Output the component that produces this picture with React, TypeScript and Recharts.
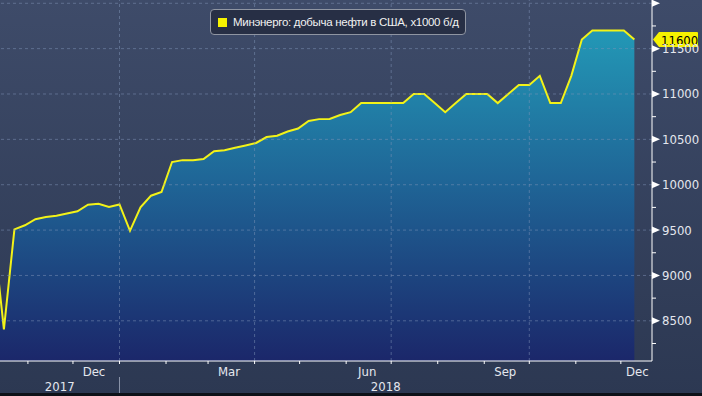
import React from "react";
import { ComposedChart, Area, XAxis, YAxis, ReferenceLine, Legend } from "recharts";

const DAY = 86400000;
const ts = (s: string) => Date.parse(s + "T00:00:00Z");

// weekly points (EIA, plotted on the following Monday)
const weekDates = [
  "2017-10-09", "2017-10-16", "2017-10-23", "2017-10-30", "2017-11-06", "2017-11-13",
  "2017-11-20", "2017-11-27", "2017-12-04", "2017-12-11", "2017-12-18", "2017-12-25",
  "2018-01-01", "2018-01-08", "2018-01-15", "2018-01-22", "2018-01-29", "2018-02-05",
  "2018-02-12", "2018-02-19", "2018-02-26", "2018-03-05", "2018-03-12", "2018-03-19",
  "2018-03-26", "2018-04-02", "2018-04-09", "2018-04-16", "2018-04-23", "2018-04-30",
  "2018-05-07", "2018-05-14", "2018-05-21", "2018-05-28", "2018-06-04", "2018-06-11",
  "2018-06-18", "2018-06-25", "2018-07-02", "2018-07-09", "2018-07-16", "2018-07-23",
  "2018-07-30", "2018-08-06", "2018-08-13", "2018-08-20", "2018-08-27", "2018-09-03",
  "2018-09-10", "2018-09-17", "2018-09-24", "2018-10-01", "2018-10-08", "2018-10-15",
  "2018-10-22", "2018-10-29", "2018-11-05", "2018-11-12", "2018-11-19", "2018-11-26",
  "2018-12-03", "2018-12-10",
];

const production = [
  9480, 8406, 9508, 9553, 9620, 9645,
  9658, 9682, 9707, 9780, 9789, 9754,
  9782, 9492, 9750, 9879, 9919, 10250,
  10271, 10271, 10283, 10369, 10381, 10407,
  10433, 10460, 10525, 10540, 10586, 10619,
  10703, 10723, 10725, 10769, 10800, 10900,
  10900, 10900, 10900, 10900, 11000, 11000,
  10900, 10800, 10900, 11000, 11000, 11000,
  10900, 11000, 11100, 11100, 11200, 10900,
  10900, 11200, 11600, 11700, 11700, 11700,
  11700, 11600,
];

const yMajor = [8500, 9000, 9500, 10000, 10500, 11000, 11500, 12000];
const yMinor = [8250, 8750, 9250, 9750, 10250, 10750, 11250, 11750];

const monthStarts = [
  "2017-11-01", "2017-12-01", "2018-01-01", "2018-02-01", "2018-03-01", "2018-04-01",
  "2018-05-01", "2018-06-01", "2018-07-01", "2018-08-01", "2018-09-01", "2018-10-01",
  "2018-11-01", "2018-12-01",
];
const quarterStarts = ["2018-01-01", "2018-04-01", "2018-07-01", "2018-10-01"];
const monthLabelDates = ["2017-12-15", "2018-03-15", "2018-06-15", "2018-09-15", "2018-12-12"];
const monthLabelTexts = ["Dec", "Mar", "Jun", "Sep", "Dec"];
const yearLabels = ["2017", "2018"];
const yearStart = "2018-01-01";

const seriesName = "Минэнерго: добыча нефти в США, x1000 б/д";

const data = weekDates.map((d, i) => ({ t: ts(d), v: production[i] }));
const lastValue = production[production.length - 1];

const JAN1 = ts(yearStart);
const xDomain = [JAN1 - 79.6 * DAY, JAN1 + 354.75 * DAY];
const yDomain = [8057, 12036];

const tickInfo = new Map<number, { kind: string; text?: string }>();
monthStarts.forEach((d) => tickInfo.set(ts(d), { kind: d === yearStart ? "year" : "month" }));
monthLabelDates.forEach((d, i) => tickInfo.set(ts(d), { kind: "label", text: monthLabelTexts[i] }));
tickInfo.set(Math.round((xDomain[0] + JAN1) / 2), { kind: "yearLabel", text: yearLabels[0] });
tickInfo.set(Math.round((JAN1 + xDomain[1]) / 2), { kind: "yearLabel", text: yearLabels[1] });
const xTicks = Array.from(tickInfo.keys()).sort((a, b) => a - b);

const FONT = '"DejaVu Sans Condensed", "DejaVu Sans", sans-serif';
const LEGEND_FONT = '"Liberation Sans", Arial, sans-serif';
const TXT = "#e4e7ee";

const XTick = (props: any) => {
  const { x, y, payload } = props;
  const info = tickInfo.get(payload.value);
  if (!info) return null;
  if (info.kind === "month" || info.kind === "year") {
    return (
      <g>
        <line x1={x} x2={x} y1={y} y2={y + 3} stroke="#ffffff" strokeWidth={1} />
        {info.kind === "year" && (
          <line x1={x} x2={x} y1={y + 16} y2={y + 33} stroke="#8b95a9" strokeWidth={1} />
        )}
      </g>
    );
  }
  const dy = info.kind === "label" ? 15 : 30;
  return (
    <text x={x} y={y + dy} textAnchor="middle" fontSize={13} fontFamily={FONT} fill={TXT}>
      {info.text}
    </text>
  );
};

const YTick = (props: any) => {
  const { x, y, payload } = props;
  const v = payload.value;
  if (yMinor.includes(v)) {
    return <line x1={x} x2={x + 4} y1={y} y2={y} stroke="#ffffff" strokeWidth={1} />;
  }
  return (
    <g>
      <path d={`M${x},${y - 3.5} L${x + 8},${y} L${x},${y + 3.5} Z`} fill="#ffffff" />
      {v !== 12000 && (
        <text x={x + 10} y={y + 4.5} fontSize={13} fontFamily={FONT} fill={TXT}>
          {v}
        </text>
      )}
    </g>
  );
};

const LastTag = (props: any) => {
  const { viewBox } = props;
  if (!viewBox) return null;
  const x = viewBox.x + viewBox.width + 1;
  const y = viewBox.y;
  return (
    <g>
      <path
        d={`M${x},${y} L${x + 6},${y - 7.5} H${x + 44} Q${x + 45},${y - 7.5} ${x + 45},${y - 6.5} V${y + 6.5} Q${x + 45},${y + 7.5} ${x + 44},${y + 7.5} H${x + 6} Z`}
        fill="#f6f200"
      />
      <text x={x + 8} y={y + 5} fontSize={13} fontFamily={FONT} fill="#000000">
        {lastValue}
      </text>
    </g>
  );
};

const LegendBox = () => (
  <div
    style={{
      boxSizing: "border-box",
      width: 256,
      height: 26,
      border: "1px solid #8f95a2",
      borderRadius: 4,
      background: "#272f45",
      display: "flex",
      alignItems: "center",
      paddingLeft: 7,
      fontFamily: LEGEND_FONT,
      fontSize: 11.5,
      letterSpacing: -0.3,
      color: "#f2f2f2",
      whiteSpace: "nowrap",
    }}
  >
    <span style={{ width: 9, height: 9, background: "#f6f200", marginRight: 6, flex: "none" }} />
    {seriesName}
  </div>
);

export default function App() {
  const grid = "rgba(130,150,185,0.5)";
  return (
    <div
      style={{
        position: "absolute",
        left: 0,
        top: 0,
        width: 702,
        height: 396,
        background: "linear-gradient(to bottom, #3e4b69, #2c3852)",
        overflow: "hidden",
      }}
    >
      <ComposedChart
        width={702}
        height={396}
        data={data}
        margin={{ top: 0, right: 0, bottom: 0, left: 0 }}
      >
        <defs>
          <linearGradient id="oilFill" x1="0" y1="0" x2="0" y2="1">
            <stop offset="0%" stopColor="#2398b6" />
            <stop offset="45%" stopColor="#1f6697" />
            <stop offset="100%" stopColor="#1b276a" />
          </linearGradient>
        </defs>
        <XAxis
          dataKey="t"
          type="number"
          scale="time"
          domain={xDomain}
          allowDataOverflow
          ticks={xTicks}
          interval={0}
          height={35}
          tickSize={0}
          tickMargin={0}
          tickLine={false}
          axisLine={{ stroke: "#ffffff", strokeWidth: 1 }}
          tick={<XTick />}
        />
        <YAxis
          orientation="right"
          type="number"
          domain={yDomain}
          allowDataOverflow
          ticks={[...yMinor, ...yMajor].sort((a, b) => a - b)}
          interval={0}
          width={50}
          tickSize={0}
          tickMargin={0}
          tickLine={false}
          axisLine={{ stroke: "#ffffff", strokeWidth: 1 }}
          tick={<YTick />}
        />
        <Area
          type="linear"
          dataKey="v"
          name={seriesName}
          stroke="#f2f218"
          strokeWidth={2}
          fill="url(#oilFill)"
          fillOpacity={1}
          dot={false}
          activeDot={false}
          isAnimationActive={false}
        />
        {yMajor.map((v) => (
          <ReferenceLine key={"h" + v} y={v} stroke={grid} strokeDasharray="3 3" />
        ))}
        {quarterStarts.map((d) => (
          <ReferenceLine key={"v" + d} x={ts(d)} stroke={grid} strokeDasharray="3 3" />
        ))}
        <ReferenceLine y={lastValue} stroke="none" label={<LastTag />} />
        <Legend
          verticalAlign="middle"
          align="center"
          content={<LegendBox />}
          wrapperStyle={{ left: 210, top: 9, width: 256, height: 26 }}
        />
      </ComposedChart>
      <div
        style={{ position: "absolute", left: 0, bottom: 0, width: 702, height: 3, background: "#0d1118" }}
      />
    </div>
  );
}
